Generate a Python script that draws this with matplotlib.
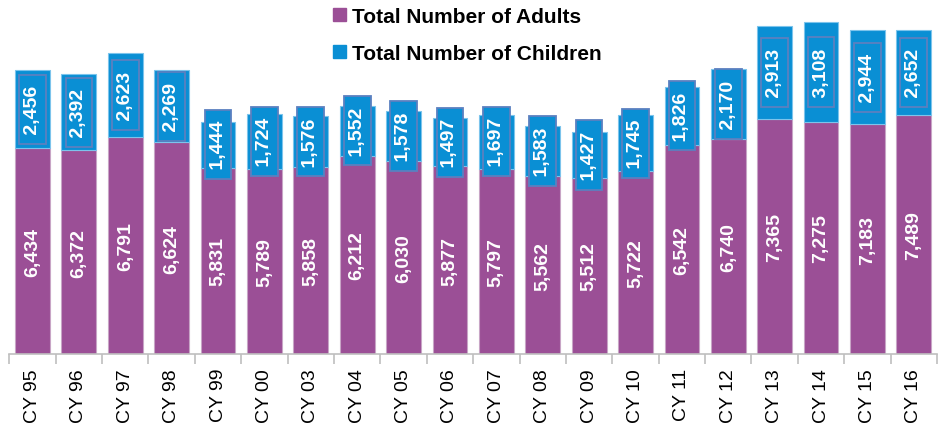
import matplotlib.pyplot as plt
from matplotlib.patches import Patch
import numpy as np

plt.rcParams['font.family'] = ['Liberation Sans', 'DejaVu Sans']

years = ['CY 95', 'CY 96', 'CY 97', 'CY 98', 'CY 99', 'CY 00', 'CY 03', 'CY 04',
         'CY 05', 'CY 06', 'CY 07', 'CY 08', 'CY 09', 'CY 10', 'CY 11', 'CY 12',
         'CY 13', 'CY 14', 'CY 15', 'CY 16']
adults = [6434, 6372, 6791, 6624, 5831, 5789, 5858, 6212, 6030, 5877,
          5797, 5562, 5512, 5722, 6542, 6740, 7365, 7275, 7183, 7489]
children = [2456, 2392, 2623, 2269, 1444, 1724, 1576, 1552, 1578, 1497,
            1697, 1583, 1427, 1745, 1826, 2170, 2913, 3108, 2944, 2652]

purple = '#9b4f96'
blue = '#0a8fd4'

fig = plt.figure(figsize=(9.39, 4.35), dpi=100)
ax = fig.add_axes([0.0099, 1 - 355 / 435, 0.988, 355 / 435])

x = np.arange(len(years))
ax.bar(x, adults, width=0.75, color=purple, edgecolor='#c8a5c6', linewidth=0.8)
ax.bar(x, children, width=0.75, bottom=adults, color=blue, edgecolor='#7cc4ec', linewidth=0.8)

for i in range(len(years)):
    ax.text(x[i], adults[i] / 2, f'{adults[i]:,}', rotation=90, ha='center', va='center',
            color='white', fontsize=14, fontweight='bold')
    # children label sits in a fixed-size box, even when it overflows the segment
    ax.text(x[i], adults[i] + children[i] / 2, f' {children[i]:,} ', rotation=90,
            ha='center', va='center', color='white', fontsize=14, fontweight='bold',
            bbox=dict(boxstyle='square,pad=0.25', fc=blue, ec='#5b80c0', lw=1.3))

ax.set_xlim(-0.5, len(years) - 0.5)
ax.set_ylim(0, 11110)
ax.set_xticks(x)
ax.set_xticklabels(years, rotation=90, fontsize=14)
ax.set_xticks(np.arange(len(years) + 1) - 0.5, minor=True)
ax.tick_params(axis='x', which='major', length=0, pad=10)
ax.tick_params(axis='x', which='minor', length=7, color='#bfbfbf', width=1.2)
ax.set_yticks([])
for s in ['top', 'left', 'right']:
    ax.spines[s].set_visible(False)
ax.spines['bottom'].set_color('#bfbfbf')
ax.spines['bottom'].set_linewidth(1.2)

handles = [Patch(color=purple, label='Total Number of Adults'),
           Patch(color=blue, label='Total Number of Children')]
fig.legend(handles=handles, loc='upper center', bbox_to_anchor=(0.498, 1.025),
           frameon=False, prop={'weight': 'bold', 'size': 15},
           handlelength=0.6, handleheight=0.6, handletextpad=0.3, labelspacing=0.85)

fig.savefig('out.png', dpi=100)
